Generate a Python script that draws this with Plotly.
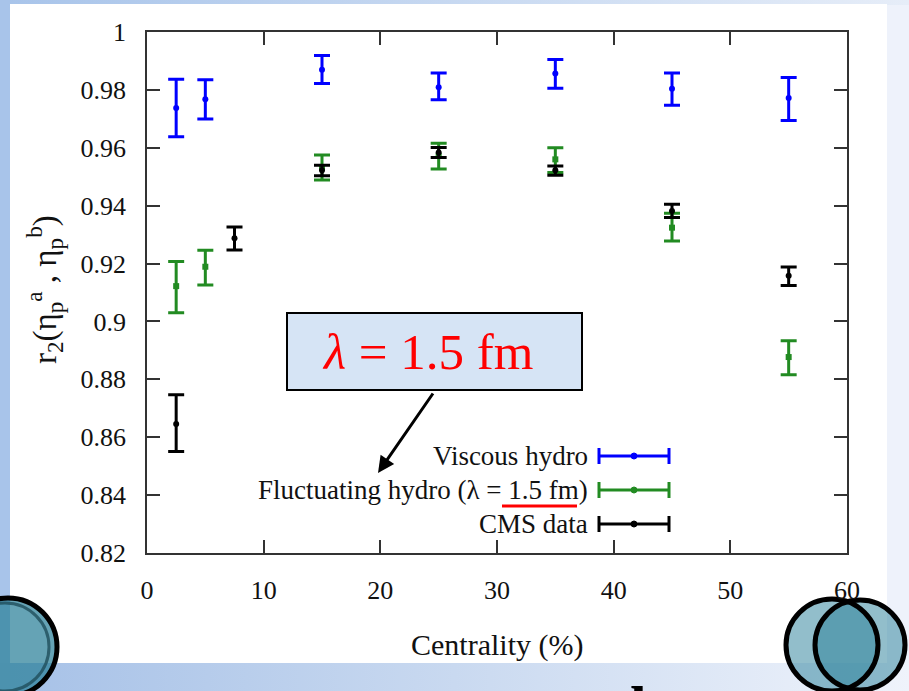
import base64
import plotly.graph_objects as go

# ---- data -------------------------------------------------------------
centrality_model = [2.5, 5, 15, 25, 35, 45, 55]
centrality_cms = [2.5, 7.5, 15, 25, 35, 45, 55]

viscous_r2 = [0.9737, 0.9768, 0.9870, 0.9809, 0.9857, 0.9804, 0.9772]
viscous_hi = [0.9837, 0.9835, 0.9919, 0.9858, 0.9905, 0.9858, 0.9843]
viscous_lo = [0.9638, 0.9699, 0.9822, 0.9766, 0.9806, 0.9747, 0.9694]

fluct_r2 = [0.9122, 0.9189, 0.9532, 0.9572, 0.9560, 0.9324, 0.8877]
fluct_hi = [0.9207, 0.9246, 0.9575, 0.9616, 0.9600, 0.9374, 0.8933]
fluct_lo = [0.9030, 0.9126, 0.9489, 0.9527, 0.9515, 0.9278, 0.8816]

cms_r2 = [0.8646, 0.9287, 0.9522, 0.9584, 0.9522, 0.9382, 0.9158]
cms_hi = [0.8747, 0.9326, 0.9540, 0.9601, 0.9537, 0.9405, 0.9188]
cms_lo = [0.8551, 0.9247, 0.9503, 0.9566, 0.9505, 0.9359, 0.9124]

x_ticks = [0, 10, 20, 30, 40, 50, 60]
y_ticks = [0.82, 0.84, 0.86, 0.88, 0.90, 0.92, 0.94, 0.96, 0.98, 1.0]

legend_labels = ["Viscous hydro", "Fluctuating hydro (λ = 1.5 fm)", "CMS data"]
series_colors = ["#0000ff", "#228b22", "#000000"]

# ---- page geometry (pixels) -------------------------------------------
W, H = 909, 691
ML, MR, MT, MB = 147, 62, 32, 138
PW, PH = W - ML - MR, H - MT - MB


def px(x):
    return (x - ML) / PW


def py(y):
    return (H - MB - y) / PH


SERIF = "Liberation Serif, Times New Roman, serif"

# ---- slide backdrop ---------------------------------------------------
svg = f'''<svg xmlns="http://www.w3.org/2000/svg" width="{W}" height="{H}" viewBox="0 0 {W} {H}">
<defs>
<linearGradient id="gb" x1="0" x2="1" y1="0" y2="0">
<stop offset="0" stop-color="#a6c1e7"/><stop offset="0.5" stop-color="#c9d9f0"/><stop offset="1" stop-color="#eff3fb"/>
</linearGradient>
<linearGradient id="gt" x1="0" x2="1" y1="0" y2="0">
<stop offset="0" stop-color="#a8c4ea"/><stop offset="1" stop-color="#e6edf8"/>
</linearGradient>
</defs>
<rect x="0" y="0" width="{W}" height="{H}" fill="#eef2fb"/>
<rect x="0" y="0" width="{W}" height="5" fill="url(#gt)"/>
<rect x="0" y="0" width="10" height="{H}" fill="#a8c4ea"/>
<rect x="0" y="663" width="{W}" height="28" fill="url(#gb)"/>
<rect x="10" y="4" width="877" height="659" fill="#ffffff"/>
<circle cx="8" cy="647" r="49" fill="#2a8099" fill-opacity="0.72" stroke="#000" stroke-width="5"/>
<circle cx="5" cy="647" r="44" fill="none" stroke="#1f4e5b" stroke-width="3" stroke-opacity="0.8"/>
<circle cx="832" cy="645" r="46" fill="#2a8099" fill-opacity="0.51"/>
<circle cx="860" cy="645" r="45" fill="#2a8099" fill-opacity="0.51"/>
<circle cx="832" cy="645" r="46" fill="none" stroke="#000" stroke-width="5"/>
<circle cx="860" cy="645" r="45" fill="none" stroke="#000" stroke-width="5"/>
</svg>'''
svg_uri = "data:image/svg+xml;base64," + base64.b64encode(svg.encode()).decode()

# ---- traces -----------------------------------------------------------
fig = go.Figure()


def add_series(x, y, lo, hi, color, symbol):
    fig.add_trace(go.Scatter(
        x=x, y=y, mode="markers",
        marker=dict(color=color, size=6, symbol=symbol),
        error_y=dict(type="data", symmetric=False,
                     array=[h - v for h, v in zip(hi, y)],
                     arrayminus=[v - l for v, l in zip(y, lo)],
                     color=color, thickness=3, width=8),
        showlegend=False, cliponaxis=False,
    ))


add_series(centrality_model, viscous_r2, viscous_lo, viscous_hi, series_colors[0], "circle")
add_series(centrality_model, fluct_r2, fluct_lo, fluct_hi, series_colors[1], "square")
add_series(centrality_cms, cms_r2, cms_lo, cms_hi, series_colors[2], "circle")

# ---- legend (text left of an error-bar key) ---------------------------
shapes = []
annotations = []
legend_rows = [456, 490, 524]
for label, color, yrow in zip(legend_labels, series_colors, legend_rows):
    annotations.append(dict(
        xref="paper", yref="paper", x=px(590), y=py(yrow),
        xanchor="right", yanchor="middle", showarrow=False,
        text=label, font=dict(family=SERIF, size=27, color="#111"),
    ))
    shapes.append(dict(type="line", xref="paper", yref="paper",
                       x0=px(599), x1=px(669), y0=py(yrow), y1=py(yrow),
                       line=dict(color=color, width=3)))
    for xc in (599, 669):
        shapes.append(dict(type="line", xref="paper", yref="paper",
                           x0=px(xc), x1=px(xc), y0=py(yrow - 8), y1=py(yrow + 8),
                           line=dict(color=color, width=3)))
    shapes.append(dict(type="circle", xref="paper", yref="paper",
                       x0=px(631), x1=px(637), y0=py(yrow + 3), y1=py(yrow - 3),
                       fillcolor=color, line=dict(color=color, width=1)))

# red underline under "1.5 fm"
shapes.append(dict(type="line", xref="paper", yref="paper",
                   x0=px(502), x1=px(577), y0=py(506), y1=py(506),
                   line=dict(color="#ff0000", width=3)))

# callout box
shapes.append(dict(type="rect", xref="paper", yref="paper",
                   x0=px(287), x1=px(582), y0=py(390), y1=py(313),
                   fillcolor="#d6e4f5", line=dict(color="#000", width=2)))
annotations.append(dict(
    xref="paper", yref="paper", x=px(428), y=py(352),
    xanchor="center", yanchor="middle", showarrow=False,
    text="<i>λ</i> = 1.5 fm", font=dict(family=SERIF, size=51, color="#ff0000"),
))
# arrow from the box down to the legend entry
annotations.append(dict(
    xref="paper", yref="paper", x=px(378), y=py(473),
    ax=56, ay=-81, text="", showarrow=True,
    arrowhead=2, arrowsize=1.1, arrowwidth=3, arrowcolor="#000",
))

# axis titles
annotations.append(dict(
    xref="paper", yref="paper", x=px(497), y=py(645),
    xanchor="center", yanchor="middle", showarrow=False,
    text="Centrality (%)", font=dict(family=SERIF, size=30, color="#111"),
))
annotations.append(dict(
    xref="paper", yref="paper", x=px(44), y=py(290),
    xanchor="center", yanchor="middle", showarrow=False, textangle=-90,
    text="r<sub>2</sub>(η<sub>p</sub><sup>a</sup> , η<sub>p</sub><sup>b</sup>)",
    font=dict(family=SERIF, size=33, color="#111"),
))
# slide text running off the bottom edge
annotations.append(dict(
    xref="paper", yref="paper", x=px(648), y=py(707),
    xanchor="right", yanchor="middle", showarrow=False,
    text="<b>d</b>", font=dict(family=SERIF, size=60, color="#000"),
))

axis_common = dict(
    showline=True, linecolor="#333", linewidth=1.5, mirror="allticks",
    ticks="inside", ticklen=13, tickwidth=1.5, tickcolor="#333",
    showgrid=False, zeroline=False,
    tickfont=dict(family=SERIF, size=26, color="#111"),
)

fig.update_layout(
    width=W, height=H,
    margin=dict(l=ML, r=MR, t=MT, b=MB),
    paper_bgcolor="#eef2fb",
    plot_bgcolor="rgba(0,0,0,0)",
    xaxis=dict(range=[0, 60], tickvals=x_ticks, ticklabelstandoff=13, **axis_common),
    yaxis=dict(range=[0.82, 1.0], tickvals=y_ticks,
               ticktext=[f"{v:g}" for v in y_ticks], ticklabelstandoff=14,
               **axis_common),
    shapes=shapes,
    annotations=annotations,
    images=[dict(source=svg_uri, xref="paper", yref="paper",
                 x=px(0), y=py(0), sizex=W / PW, sizey=H / PH,
                 xanchor="left", yanchor="top", sizing="stretch", layer="below")],
)

fig.write_html("out.html")
